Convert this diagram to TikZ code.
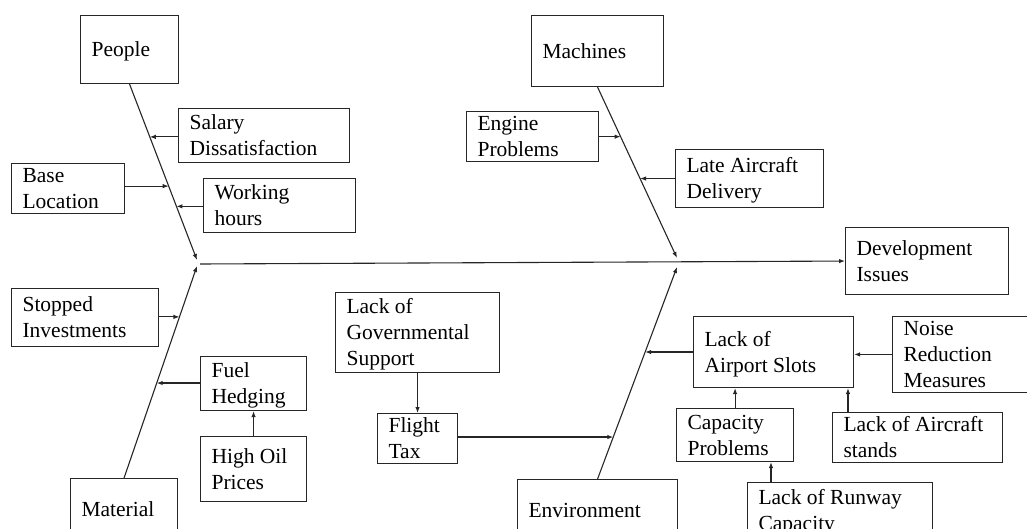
\documentclass[tikz,border=0pt]{standalone}
\usepackage{fontspec}
\setmainfont{Liberation Serif}
\usetikzlibrary{arrows.meta}
\newcommand{\linestrut}{\rule[-4.6pt]{0pt}{23.8pt}}
\tikzset{
  cause/.style={draw=black!85, line width=1.1pt, anchor=north west, align=flush left,
    inner xsep=11pt, inner ysep=0pt, font=\fontsize{21.5}{26}\selectfont,
    execute at begin node=\linestrut, execute at end node=\linestrut},
  link/.style={draw=black!85, line width=1.1pt, -{Latex[length=6pt,width=4.5pt]}}
}
\begin{document}
\begin{tikzpicture}[x=1pt,y=-1pt]
\useasboundingbox (0,0) rectangle (1027,529);
\clip (0,0) rectangle (1027,529);
% main categories
\node[cause, text width=76pt, minimum height=68pt] (ppl) at (80,15) {People};
\node[cause, text width=110pt, minimum height=71pt] (mach) at (531,15) {Machines};
\node[cause, text width=85pt, minimum height=62pt] (mat) at (70,478) {Material};
\node[cause, text width=138pt, minimum height=62pt] (env) at (517,479) {Environment};
\node[cause, text width=141pt, minimum height=67pt] (dev) at (845,227) {Development\\Issues};
% people
\node[cause, text width=149pt, minimum height=54pt] (sal) at (178,108) {Salary\\Dissatisfaction};
\node[cause, text width=91pt, minimum height=48pt] (base) at (11,163) {Base\\Location};
\node[cause, text width=130pt, minimum height=54pt] (work) at (203,178) {Working\\hours};
% machines
\node[cause, text width=110pt, minimum height=49pt] (eng) at (466,111) {Engine\\Problems};
\node[cause, text width=126pt, minimum height=58pt] (late) at (675,149) {Late Aircraft\\Delivery};
% material
\node[cause, text width=125pt, minimum height=58pt] (stop) at (11,288) {Stopped\\Investments};
\node[cause, text width=84pt, minimum height=54pt] (fuel) at (200,356) {Fuel\\Hedging};
\node[cause, text width=84pt, minimum height=65pt] (oil) at (200,436) {High Oil\\Prices};
% environment
\node[cause, text width=142pt, minimum height=80pt] (gov) at (335,292) {Lack of\\Governmental\\Support};
\node[cause, text width=58pt, minimum height=48pt] (tax) at (377,413) {Flight\\Tax};
\node[cause, text width=138pt, minimum height=71pt] (slots) at (693,316) {Lack of\\Airport Slots};
\node[cause, text width=126pt, minimum height=74pt] (noise) at (892,316) {Noise\\Reduction\\Measures};
\node[cause, text width=95pt, minimum height=53pt] (cap) at (676,408) {Capacity\\Problems};
\node[cause, text width=148pt, minimum height=48pt] (stands) at (832,412) {Lack of Aircraft\\stands};
\node[cause, text width=163pt, minimum height=56pt] (runway) at (747,482) {Lack of Runway\\Capacity};
% spine ends
\coordinate (pend) at (197,260);
\coordinate (mend) at (197,266);
\coordinate (hub) at (200,264);
\coordinate (qend) at (677,258);
\coordinate (eend) at (677,267);
% bones
\draw[link] (ppl.south) -- coordinate[pos=0.30] (p1) coordinate[pos=0.58] (p2)
  coordinate[pos=0.695] (p3) (pend);
\draw[link] (mach.south) -- coordinate[pos=0.29] (q1) coordinate[pos=0.535] (q2) (qend);
\draw[link] (mat.north) -- coordinate[pos=0.76] (m1) coordinate[pos=0.448] (m2) (mend);
\draw[link] (env.north) -- coordinate[pos=0.198] (e1) coordinate[pos=0.599] (e2) (eend);
\draw[link] (hub) -- (dev.west);
% causes onto bones
\draw[link] (sal.west |- p1) -- (p1);
\draw[link] (base.east |- p2) -- (p2);
\draw[link] (work.west |- p3) -- (p3);
\draw[link] (eng.east |- q1) -- (q1);
\draw[link] (late.west |- q2) -- (q2);
\draw[link] (stop.east |- m1) -- (m1);
\draw[link] (fuel.west |- m2) -- (m2);
\draw[link] (oil.north) -- (fuel.south);
\draw[link] (tax.east |- e1) -- (e1);
\draw[link] (gov.south) -- (tax.north);
\draw[link] (slots.west |- e2) -- (e2);
\draw[link] (noise.west) -- (noise.west -| slots.east);
\draw[link] (cap.north) -- (cap.north |- slots.south);
\draw[link] ([xshift=16pt]stands.north west) -- ([xshift=16pt]stands.north west |- slots.south);
\draw[link] ([xshift=24pt]runway.north west) -- ([xshift=24pt]runway.north west |- cap.south);
\end{tikzpicture}
\end{document}
